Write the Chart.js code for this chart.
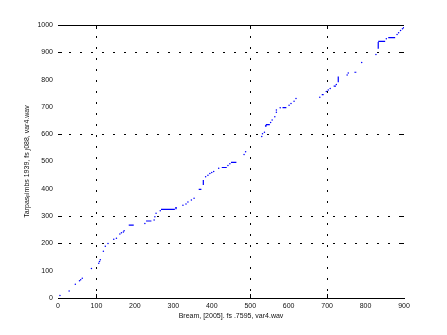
<!DOCTYPE html>
<html>
<head>
<meta charset="utf-8">
<script src="https://cdn.jsdelivr.net/npm/chart.js@4/dist/chart.umd.min.js"></script>
<style>
  html, body { margin: 0; padding: 0; background: #fff; }
  #wrap { position: relative; width: 447px; height: 335px; }
</style>
</head>
<body>
<div id="wrap"><canvas id="path"></canvas></div>
<script>
// single warping-path dots
const dotX = [5, 29, 45, 56, 59, 63, 87, 106, 108, 110, 118, 123, 130, 145, 152, 161, 165, 170, 172,
  226, 250, 252, 255, 266, 307, 325, 333, 338, 347, 354, 384, 390, 395, 400, 405, 418, 442, 447,
  484, 488, 530, 532, 537, 540, 553, 557, 564, 568, 568, 578, 601, 606, 614, 619, 681, 698, 703,
  708, 724, 752, 755, 790, 827, 854, 882, 886, 891, 896, 899];
const dotY = [9, 26, 50, 63, 67, 72, 108, 127, 134, 140, 171, 190, 200, 215, 219, 234, 239, 242, 246,
  273, 286, 298, 310, 320, 331, 340, 344, 352, 359, 365, 444, 450, 456, 460, 463, 475, 485, 492,
  526, 536, 592, 602, 607, 630, 643, 652, 664, 680, 689, 697, 706, 712, 721, 731, 735, 756, 762,
  767, 782, 817, 824, 863, 892, 950, 965, 972, 980, 986, 990];

// flat runs (start x, end x, y)
const flatStart = [184, 229, 268, 366, 426, 450, 541, 584, 686, 717, 771, 833, 859];
const flatEnd   = [197, 243, 304, 373, 439, 464, 551, 594, 691, 723, 776, 851, 877];
const flatY     = [267, 282, 325, 398, 478, 497, 635, 697, 745, 776, 827, 940, 954];

// vertical runs (x, low y, high y)
const riseX    = [307, 378, 541, 729, 833];
const riseLow  = [325, 414, 628, 790, 913];
const riseHigh = [332, 432, 635, 811, 938];

const xTicks = [0, 100, 200, 300, 400, 500, 600, 700, 800, 900];
const yTicks = [0, 100, 200, 300, 400, 500, 600, 700, 800, 900, 1000];
const xGrid = [100, 500, 700];
const yGrid = [200, 300, 600, 900];

const dots = dotX.map((x, i) => ({ x: x, y: dotY[i] }));
const runs = [];
flatStart.forEach((x, i) => {
  runs.push({ x: x, y: flatY[i] }, { x: flatEnd[i], y: flatY[i] }, { x: flatEnd[i], y: null });
});
riseX.forEach((x, i) => {
  runs.push({ x: x, y: riseLow[i] }, { x: x, y: riseHigh[i] }, { x: x, y: null });
});

const txt = { family: "'Liberation Sans', Arial, sans-serif", size: 7 };

// top frame line and the little inward ticks at the grid lines (matlab look)
const frame = {
  id: 'frame',
  afterDraw(chart) {
    const { ctx, chartArea: a, scales } = chart;
    ctx.save();
    ctx.strokeStyle = '#000';
    ctx.lineWidth = 1;
    ctx.beginPath();
    ctx.moveTo(a.left, a.top + 0.5);
    ctx.lineTo(a.right, a.top + 0.5);
    yGrid.forEach(v => {
      const py = Math.round(scales.y.getPixelForValue(v)) + 0.5;
      ctx.moveTo(a.left, py); ctx.lineTo(a.left + 4, py);
      ctx.moveTo(a.right - 4, py); ctx.lineTo(a.right, py);
    });
    xGrid.forEach(v => {
      const px = Math.round(scales.x.getPixelForValue(v)) + 0.5;
      ctx.moveTo(px, a.bottom); ctx.lineTo(px, a.bottom - 4);
      ctx.moveTo(px, a.top); ctx.lineTo(px, a.top + 4);
    });
    ctx.stroke();
    ctx.restore();
  }
};

new Chart(document.getElementById('path'), {
  type: 'scatter',
  data: {
    datasets: [
      {
        label: 'path',
        data: dots,
        pointRadius: 0.75,
        pointBorderWidth: 0,
        pointBackgroundColor: '#0000ff',
        showLine: false
      },
      {
        label: 'runs',
        data: runs,
        showLine: true,
        spanGaps: false,
        borderColor: '#0000ff',
        borderWidth: 1.2,
        pointRadius: 0
      }
    ]
  },
  plugins: [frame],
  options: {
    responsive: true,
    maintainAspectRatio: false,
    animation: false,
    events: [],
    layout: { padding: { left: 0, top: 25, right: 43, bottom: 0 } },
    plugins: { legend: { display: false }, tooltip: { enabled: false } },
    scales: {
      x: {
        type: 'linear',
        min: 0,
        max: 900,
        afterFit: s => { s.height = 37; },
        afterBuildTicks: s => { s.ticks = xTicks.map(v => ({ value: v })); },
        ticks: { font: txt, color: '#111', padding: 4, maxRotation: 0, callback: v => String(v) },
        grid: {
          drawTicks: false,
          color: c => (xGrid.includes(c.tick && c.tick.value) ? '#000' : 'rgba(0,0,0,0)'),
          lineWidth: 1
        },
        border: { display: true, color: '#000', width: 1, dash: [2, 9] },
        title: {
          display: true,
          text: 'Bream, [2005]. fs .7595, var4.wav',
          font: txt,
          color: '#111',
          padding: { top: 0, bottom: 15 }
        }
      },
      y: {
        type: 'linear',
        min: 0,
        max: 1000,
        afterFit: s => { s.width = 58; },
        afterBuildTicks: s => { s.ticks = yTicks.map(v => ({ value: v })); },
        ticks: { font: txt, color: '#111', padding: 5, callback: v => String(v) },
        grid: {
          drawTicks: false,
          color: c => (yGrid.includes(c.tick && c.tick.value) ? '#000' : 'rgba(0,0,0,0)'),
          lineWidth: 1
        },
        border: { display: false, dash: [2, 9] },
        title: {
          display: true,
          text: 'Tarpasᵦimbs 1939, fs ȷ088, var4.wav',
          font: txt,
          color: '#111',
          padding: { top: 23, bottom: 0 }
        }
      }
    }
  }
});
</script>
</body>
</html>
